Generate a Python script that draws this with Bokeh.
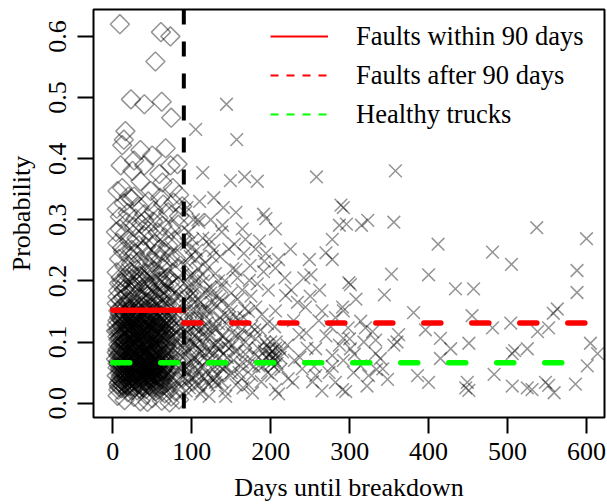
import math
from bokeh.plotting import figure
from bokeh.models import Range1d, FixedTicker, NumeralTickFormatter, Span, Legend, LegendItem
from bokeh.embed import file_html
from bokeh.resources import INLINE

# ---------------- data ----------------
cutoff_days = 90

line_labels = ["Faults within 90 days", "Faults after 90 days", "Healthy trucks"]
line_levels = [0.152, 0.131, 0.066]
line_start = [0, 90, 0]
line_end = [90, 600, 600]
line_colors = ["#ff0000", "#ff0000", "#00ff00"]
line_dashes = ["solid", "17 31", "17 31"]
legend_dashes = ["solid", "8 8", "8 8"]

x_ticks = [0, 100, 200, 300, 400, 500, 600]
y_ticks = [0.0, 0.1, 0.2, 0.3, 0.4, 0.5, 0.6]

# trucks that broke down within 90 days (diamonds): (days, probability)
early_points = [
    (9, 0.620), (61, 0.607), (73, 0.600), (54, 0.559), (23, 0.497), (40, 0.489), (62, 0.493),
    (74, 0.467), (16, 0.445), (14, 0.431), (12, 0.422), (35, 0.414), (67, 0.417), (50, 0.405),
    (10, 0.389), (27, 0.397), (40, 0.389), (82, 0.391), (25, 0.380), (59, 0.375), (73, 0.389),
    (12, 0.352), (63, 0.361), (35, 0.363), (76, 0.352), (6, 0.347), (27, 0.338), (48, 0.347),
    (84, 0.341),
    (5, 0.318), (9, 0.305), (14, 0.327), (19, 0.311), (24, 0.334), (29, 0.302), (34, 0.321),
    (40, 0.309), (45, 0.330), (52, 0.315), (58, 0.303), (64, 0.325), (70, 0.312), (77, 0.328),
    (84, 0.306), (20, 0.338), (60, 0.336), (88, 0.322),
    (6, 0.262), (9, 0.285), (12, 0.254), (15, 0.277), (18, 0.296), (21, 0.265), (24, 0.251),
    (27, 0.288), (30, 0.270), (33, 0.258), (36, 0.293), (39, 0.274), (42, 0.256), (45, 0.282),
    (48, 0.268), (51, 0.297), (54, 0.260), (57, 0.279), (60, 0.252), (63, 0.290), (66, 0.271),
    (70, 0.258), (74, 0.284), (78, 0.266), (83, 0.292), (87, 0.275), (4, 0.280), (40, 0.298),
    (5, 0.214), (8, 0.236), (10, 0.205), (13, 0.248), (15, 0.223), (18, 0.210), (20, 0.241),
    (23, 0.228), (25, 0.203), (28, 0.245), (30, 0.218), (33, 0.232), (35, 0.207), (38, 0.249),
    (40, 0.225), (43, 0.212), (45, 0.239), (48, 0.201), (50, 0.230), (53, 0.216), (55, 0.244),
    (58, 0.209), (60, 0.234), (63, 0.221), (65, 0.247), (68, 0.204), (70, 0.228), (73, 0.240),
    (76, 0.213), (80, 0.237), (84, 0.220), (88, 0.243), (22, 0.215), (47, 0.222), (62, 0.200),
    (5, 0.163), (7, 0.184), (9, 0.155), (11, 0.197), (13, 0.172), (15, 0.158), (17, 0.189),
    (19, 0.166), (21, 0.151), (23, 0.181), (25, 0.194), (27, 0.162), (29, 0.176), (31, 0.153),
    (33, 0.199), (35, 0.169), (37, 0.186), (39, 0.157), (41, 0.178), (43, 0.192), (45, 0.164),
    (47, 0.150), (49, 0.183), (51, 0.171), (53, 0.196), (55, 0.159), (57, 0.175), (59, 0.188),
    (61, 0.154), (63, 0.167), (65, 0.193), (67, 0.180), (69, 0.160), (71, 0.174), (73, 0.198),
    (75, 0.156), (77, 0.185), (80, 0.168), (83, 0.191), (86, 0.161), (89, 0.179), (12, 0.150),
    (28, 0.190), (44, 0.175), (60, 0.170),
    (6, 0.174), (8, 0.196), (10, 0.168), (14, 0.186), (16, 0.203), (18, 0.177), (22, 0.165),
    (24, 0.210), (26, 0.183), (30, 0.197), (32, 0.171), (34, 0.208), (36, 0.160), (40, 0.201),
    (42, 0.166), (46, 0.190), (48, 0.214), (52, 0.180), (54, 0.165), (58, 0.199), (62, 0.181),
    (66, 0.160), (70, 0.205), (74, 0.175), (78, 0.196),
    (7, 0.151), (10, 0.137), (13, 0.158), (16, 0.144), (19, 0.153), (22, 0.146), (25, 0.139),
    (28, 0.155), (31, 0.141), (34, 0.157), (37, 0.147), (40, 0.135), (43, 0.154), (46, 0.143),
    (49, 0.156), (52, 0.138), (55, 0.150), (59, 0.142), (64, 0.152), (69, 0.140),
    (4, 0.118), (6, 0.135), (7, 0.104), (9, 0.146), (11, 0.126), (12, 0.111), (14, 0.139),
    (15, 0.102), (17, 0.121), (18, 0.148), (20, 0.132), (21, 0.108), (23, 0.143), (24, 0.117),
    (26, 0.129), (27, 0.101), (29, 0.137), (30, 0.114), (32, 0.149), (33, 0.124), (35, 0.106),
    (36, 0.141), (38, 0.119), (39, 0.133), (41, 0.103), (42, 0.128), (44, 0.145), (45, 0.112),
    (47, 0.136), (48, 0.122), (50, 0.107), (51, 0.147), (53, 0.130), (54, 0.115), (56, 0.140),
    (58, 0.105), (59, 0.125), (61, 0.144), (62, 0.113), (64, 0.134), (66, 0.120), (67, 0.102),
    (69, 0.146), (71, 0.127), (73, 0.110), (75, 0.138), (77, 0.118), (79, 0.131), (82, 0.104),
    (84, 0.142), (86, 0.123), (88, 0.109), (16, 0.131), (34, 0.127), (57, 0.131),
    (5, 0.128), (6, 0.109), (8, 0.141), (10, 0.117), (12, 0.135), (13, 0.103), (15, 0.145),
    (17, 0.113), (19, 0.127), (20, 0.104), (22, 0.138), (24, 0.150), (25, 0.121), (27, 0.134),
    (28, 0.111), (30, 0.146), (31, 0.128), (33, 0.105), (35, 0.139), (37, 0.124), (38, 0.100),
    (40, 0.147), (42, 0.114), (43, 0.136), (46, 0.126), (47, 0.104), (49, 0.142), (52, 0.119),
    (54, 0.133), (57, 0.110), (60, 0.122), (63, 0.140), (66, 0.108), (70, 0.132), (74, 0.124),
    (8, 0.120), (11, 0.140), (14, 0.128), (17, 0.137), (20, 0.122), (23, 0.131), (26, 0.142),
    (29, 0.124), (32, 0.136), (35, 0.120), (41, 0.138), (44, 0.131), (48, 0.139), (53, 0.124),
    (56, 0.129), (61, 0.133), (65, 0.127), (68, 0.138), (72, 0.120), (78, 0.126),
    (6, 0.119), (9, 0.106), (12, 0.124), (15, 0.112), (18, 0.105), (21, 0.121), (24, 0.109),
    (27, 0.118), (30, 0.103), (33, 0.115), (36, 0.126), (39, 0.108), (42, 0.120), (45, 0.102),
    (48, 0.117), (51, 0.110), (54, 0.125), (58, 0.114), (62, 0.121), (67, 0.115),
    (7, 0.096), (10, 0.108), (12, 0.089), (14, 0.118), (16, 0.100), (18, 0.093), (20, 0.115),
    (22, 0.101), (24, 0.086), (26, 0.110), (28, 0.097), (30, 0.122), (32, 0.090), (34, 0.111),
    (36, 0.098), (38, 0.130), (40, 0.112), (42, 0.094), (44, 0.120), (46, 0.101), (48, 0.113),
    (50, 0.091), (52, 0.108), (55, 0.117), (58, 0.099), (62, 0.105), (65, 0.112), (68, 0.096),
    (72, 0.103), (76, 0.109),
    (4, 0.072), (6, 0.088), (8, 0.064), (10, 0.095), (11, 0.078), (13, 0.061), (14, 0.086),
    (16, 0.070), (17, 0.098), (19, 0.082), (20, 0.066), (22, 0.091), (23, 0.075), (25, 0.062),
    (26, 0.087), (28, 0.069), (29, 0.096), (31, 0.080), (32, 0.063), (34, 0.090), (35, 0.073),
    (37, 0.085), (38, 0.067), (40, 0.099), (41, 0.077), (43, 0.060), (44, 0.089), (46, 0.071),
    (47, 0.094), (49, 0.083), (50, 0.065), (52, 0.092), (53, 0.076), (55, 0.068), (56, 0.087),
    (58, 0.079), (60, 0.097), (61, 0.062), (63, 0.084), (65, 0.071), (67, 0.093), (68, 0.066),
    (70, 0.081), (72, 0.074), (74, 0.096), (76, 0.063), (78, 0.088), (80, 0.070), (83, 0.082),
    (86, 0.093), (89, 0.067), (9, 0.081), (27, 0.078), (45, 0.080), (57, 0.061),
    (5, 0.083), (7, 0.069), (9, 0.092), (11, 0.063), (12, 0.075), (14, 0.097), (16, 0.082),
    (18, 0.061), (19, 0.073), (21, 0.085), (23, 0.094), (24, 0.068), (26, 0.079), (28, 0.091),
    (30, 0.064), (31, 0.088), (33, 0.072), (35, 0.095), (36, 0.080), (38, 0.062), (40, 0.087),
    (42, 0.070), (43, 0.098), (45, 0.066), (47, 0.078), (48, 0.090), (50, 0.074), (52, 0.061),
    (54, 0.085), (56, 0.095), (59, 0.072), (62, 0.088), (66, 0.079), (69, 0.065), (73, 0.086),
    (7, 0.078), (10, 0.086), (13, 0.079), (16, 0.091), (19, 0.088), (22, 0.077), (25, 0.097),
    (28, 0.083), (31, 0.094), (34, 0.078), (37, 0.092), (40, 0.075), (43, 0.084), (46, 0.095),
    (49, 0.076), (52, 0.085), (55, 0.079), (58, 0.091), (62, 0.077), (66, 0.090),
    (6, 0.065), (9, 0.057), (12, 0.069), (15, 0.051), (18, 0.066), (21, 0.055), (24, 0.070),
    (27, 0.058), (30, 0.067), (33, 0.052), (36, 0.064), (39, 0.055), (42, 0.068), (45, 0.056),
    (48, 0.063), (51, 0.054), (54, 0.070), (57, 0.058), (60, 0.067), (63, 0.053),
    (6, 0.058), (9, 0.049), (11, 0.037), (13, 0.066), (15, 0.058), (17, 0.041), (19, 0.064),
    (21, 0.049), (23, 0.060), (25, 0.045), (27, 0.067), (29, 0.054), (31, 0.040), (33, 0.062),
    (35, 0.047), (37, 0.058), (39, 0.069), (41, 0.044), (43, 0.055), (45, 0.042), (47, 0.066),
    (49, 0.051), (51, 0.060), (53, 0.047), (55, 0.063), (57, 0.052), (59, 0.065), (61, 0.041),
    (64, 0.056), (67, 0.062),
    (5, 0.045), (8, 0.034), (10, 0.055), (13, 0.041), (15, 0.032), (17, 0.050), (19, 0.038),
    (21, 0.058), (23, 0.044), (25, 0.035), (27, 0.052), (29, 0.039), (31, 0.047), (33, 0.031),
    (35, 0.056), (37, 0.042), (39, 0.036), (41, 0.053), (43, 0.045), (45, 0.033), (47, 0.059),
    (49, 0.040), (51, 0.049), (53, 0.035), (55, 0.054), (57, 0.043), (59, 0.031), (61, 0.051),
    (63, 0.038), (65, 0.057), (67, 0.046), (69, 0.034), (72, 0.052), (75, 0.040), (78, 0.048),
    (81, 0.036), (84, 0.055), (87, 0.043), (12, 0.048), (22, 0.033), (32, 0.057), (42, 0.050),
    (52, 0.042), (62, 0.044), (18, 0.054),
    (7, 0.031), (10, 0.044), (13, 0.036), (16, 0.046), (19, 0.030), (22, 0.040), (25, 0.027),
    (28, 0.045), (31, 0.033), (34, 0.042), (37, 0.028), (40, 0.035), (43, 0.046), (46, 0.030),
    (49, 0.043), (52, 0.026), (55, 0.038), (58, 0.047), (61, 0.030), (65, 0.040),
    (7, 0.022), (9, 0.040), (12, 0.030), (14, 0.052), (16, 0.025), (18, 0.043), (20, 0.028),
    (22, 0.047), (24, 0.021), (26, 0.041), (28, 0.026), (30, 0.053), (32, 0.036), (34, 0.024),
    (36, 0.049), (38, 0.032), (40, 0.044), (42, 0.023), (44, 0.038), (46, 0.051), (48, 0.027),
    (50, 0.039), (52, 0.057), (54, 0.030), (56, 0.046), (58, 0.022), (60, 0.037), (64, 0.029),
    (68, 0.053), (73, 0.032),
    (6, 0.012), (11, 0.024), (15, 0.005), (19, 0.018), (23, 0.028), (27, 0.010), (31, 0.021),
    (35, 0.003), (38, 0.026), (42, 0.014), (46, 0.029), (50, 0.008), (54, 0.019), (58, 0.027),
    (62, 0.004), (66, 0.016), (70, 0.025), (74, 0.011), (79, 0.020), (84, 0.006), (88, 0.022),
    (13, 0.029), (44, 0.002), (72, 0.001), (8, 0.027),
]

# trucks that broke down after 90 days (crosses): (days, probability)
late_points = [
    (144, 0.489), (105, 0.448), (157, 0.431), (114, 0.377), (149, 0.364), (167, 0.370),
    (183, 0.363), (258, 0.370), (358, 0.380), (128, 0.336), (289, 0.324), (292, 0.320),
    (156, 0.312), (191, 0.309), (296, 0.293), (315, 0.291), (323, 0.299), (356, 0.296),
    (412, 0.260), (537, 0.287), (600, 0.269), (481, 0.247), (505, 0.227), (588, 0.217),
    (353, 0.211), (400, 0.210), (299, 0.197), (301, 0.194), (434, 0.187), (457, 0.187),
    (344, 0.177), (588, 0.181), (308, 0.170), (563, 0.154), (558, 0.147), (381, 0.148),
    (455, 0.143), (314, 0.134), (329, 0.117), (362, 0.112), (356, 0.095), (360, 0.100),
    (396, 0.120), (415, 0.106), (451, 0.098), (481, 0.123), (504, 0.131), (538, 0.117),
    (552, 0.123), (605, 0.098), (614, 0.081), (525, 0.089), (506, 0.081), (509, 0.086),
    (314, 0.061), (305, 0.050), (324, 0.045), (348, 0.039), (339, 0.073), (386, 0.045),
    (400, 0.034), (415, 0.073), (428, 0.089), (449, 0.034), (447, 0.025), (451, 0.021),
    (483, 0.047), (506, 0.028), (525, 0.025), (548, 0.034), (552, 0.029), (559, 0.017),
    (586, 0.031), (601, 0.061), (295, 0.019), (531, 0.022),
    (194, 0.302), (206, 0.285), (225, 0.252), (181, 0.252), (192, 0.232), (206, 0.221),
    (251, 0.210), (278, 0.235), (287, 0.291), (219, 0.176), (244, 0.157), (265, 0.151),
    (206, 0.151), (287, 0.095), (278, 0.078), (257, 0.089), (236, 0.112), (206, 0.078),
    (198, 0.089), (215, 0.084), (185, 0.061), (164, 0.067), (240, 0.056), (257, 0.045),
    (282, 0.034), (228, 0.034), (206, 0.022), (177, 0.017), (143, 0.011), (122, 0.011),
    (291, 0.022), (130, 0.034), (105, 0.045), (139, 0.056), (122, 0.084), (152, 0.095),
    (173, 0.112), (156, 0.140), (181, 0.157), (139, 0.168), (164, 0.185), (118, 0.185),
    (130, 0.212), (156, 0.218), (173, 0.201), (105, 0.235), (126, 0.240), (147, 0.252),
    (168, 0.268), (122, 0.268), (139, 0.291), (109, 0.296), (164, 0.285), (101, 0.268),
    (97, 0.207), (114, 0.157), (105, 0.129), (130, 0.123), (97, 0.101), (114, 0.112),
    (101, 0.073), (135, 0.089), (274, 0.050), (282, 0.140), (291, 0.157), (278, 0.268),
    (249, 0.235), (270, 0.246),
    (292, 0.151), (298, 0.123), (320, 0.123), (333, 0.103), (292, 0.106), (301, 0.089),
    (333, 0.081), (342, 0.056),
    (93, 0.020), (95, 0.050), (97, 0.090), (99, 0.130), (101, 0.170), (103, 0.210),
    (106, 0.250), (108, 0.300), (110, 0.330), (94, 0.320), (96, 0.280), (98, 0.240),
    (100, 0.190), (102, 0.150), (104, 0.110), (107, 0.070), (109, 0.030), (112, 0.060),
    (114, 0.100), (116, 0.140), (118, 0.180), (120, 0.220), (122, 0.260), (124, 0.300),
    (126, 0.040), (128, 0.080), (130, 0.120), (132, 0.160), (134, 0.200), (136, 0.240),
    (138, 0.280), (140, 0.320), (142, 0.020), (144, 0.060), (146, 0.100), (148, 0.140),
    (150, 0.180), (152, 0.220), (154, 0.260), (111, 0.015), (119, 0.035), (127, 0.055),
    (135, 0.075), (143, 0.095), (151, 0.115), (159, 0.135), (167, 0.155), (175, 0.175),
    (183, 0.195), (191, 0.215), (92, 0.120), (92, 0.175), (105, 0.095), (117, 0.125),
    (125, 0.165), (133, 0.045), (141, 0.145), (149, 0.045), (157, 0.085), (165, 0.025),
    (173, 0.065), (181, 0.105), (189, 0.145), (197, 0.185), (205, 0.125), (213, 0.055),
    (221, 0.095), (229, 0.135), (237, 0.075), (245, 0.115), (253, 0.035), (261, 0.135),
    (158, 0.205), (166, 0.245), (174, 0.225), (186, 0.265), (194, 0.245), (210, 0.235),
    (218, 0.205), (226, 0.185), (234, 0.165), (242, 0.205), (250, 0.175), (262, 0.185),
    (270, 0.110), (276, 0.125), (292, 0.070), (300, 0.105), (306, 0.080), (318, 0.100),
    (322, 0.028), (334, 0.055), (265, 0.020), (278, 0.060), (210, 0.015), (196, 0.050),
    (188, 0.035), (180, 0.080), (168, 0.100), (162, 0.060), (156, 0.030), (200, 0.100),
    (208, 0.065), (222, 0.040), (230, 0.070), (246, 0.090), (255, 0.060), (194, 0.075),
    (202, 0.085), (212, 0.075), (204, 0.060), (199, 0.070),
    (91, 0.060), (93, 0.150), (94, 0.230), (95, 0.110), (96, 0.035), (98, 0.175),
    (99, 0.065), (100, 0.255), (102, 0.125), (103, 0.040), (104, 0.190), (106, 0.150),
    (107, 0.105), (108, 0.220), (110, 0.080), (111, 0.165), (113, 0.045), (115, 0.200),
    (116, 0.075), (118, 0.110), (120, 0.150), (121, 0.030), (123, 0.190), (125, 0.095),
    (127, 0.130), (129, 0.060), (131, 0.175), (133, 0.100), (136, 0.140), (138, 0.035),
    (140, 0.110), (142, 0.200), (145, 0.075), (147, 0.160), (150, 0.050), (153, 0.130),
    (155, 0.085), (158, 0.170), (161, 0.110), (163, 0.040), (166, 0.140), (170, 0.090),
    (172, 0.030), (176, 0.125), (179, 0.060), (184, 0.090), (187, 0.120), (192, 0.100),
    (196, 0.130), (201, 0.045), (203, 0.075), (207, 0.100), (211, 0.090), (198, 0.080),
    (205, 0.070),
    (91, 0.095), (92, 0.040), (93, 0.260), (94, 0.085), (95, 0.190), (96, 0.140),
    (97, 0.025), (98, 0.120), (99, 0.210), (100, 0.100), (101, 0.055), (102, 0.300),
    (103, 0.165), (104, 0.075), (105, 0.200), (106, 0.030), (107, 0.130), (108, 0.170),
    (109, 0.090), (110, 0.240), (111, 0.120), (112, 0.150), (113, 0.020), (114, 0.270),
    (115, 0.060), (116, 0.095), (117, 0.230), (118, 0.050), (119, 0.155), (120, 0.085),
    (122, 0.120), (124, 0.180), (126, 0.070), (128, 0.250), (130, 0.095), (132, 0.030),
    (134, 0.130), (136, 0.060), (138, 0.190), (140, 0.080),
    (92, 0.080), (94, 0.130), (96, 0.065), (98, 0.150), (100, 0.040), (102, 0.180),
    (104, 0.095), (106, 0.120), (108, 0.055), (110, 0.140), (112, 0.085), (114, 0.210),
    (116, 0.040), (118, 0.130), (120, 0.070), (123, 0.110), (126, 0.150), (129, 0.040),
    (132, 0.090), (135, 0.170), (138, 0.110), (141, 0.060), (144, 0.130), (147, 0.090),
    (150, 0.150), (153, 0.070), (157, 0.110), (160, 0.050), (164, 0.120), (168, 0.080),
    (172, 0.150), (176, 0.045), (180, 0.120), (185, 0.075), (190, 0.060), (195, 0.095),
    (200, 0.080), (206, 0.090), (192, 0.085), (201, 0.065),
]

# ---------------- figure ----------------
early_x = [pt[0] for pt in early_points]
early_y = [pt[1] for pt in early_points]
late_x = [pt[0] for pt in late_points]
late_y = [pt[1] for pt in late_points]

FONT = "Liberation Serif"

p = figure(width=607, height=504, output_backend="svg", toolbar_location=None,
           x_range=Range1d(-24.4, 622.8), y_range=Range1d(-0.0235, 0.644),
           min_border_left=93, min_border_right=3, min_border_top=9, min_border_bottom=0,
           background_fill_color="white", border_fill_color="white")

p.xgrid.visible = False
p.ygrid.visible = False
p.outline_line_color = "black"
p.outline_line_width = 2
p.outline_line_alpha = 1

for ax in (p.xaxis[0], p.yaxis[0]):
    ax.axis_line_color = None
    ax.major_tick_line_color = "black"
    ax.major_tick_line_width = 2
    ax.major_tick_in = 0
    ax.major_tick_out = 16
    ax.minor_tick_line_color = None
    ax.major_label_text_font = FONT
    ax.major_label_text_font_size = "26px"
    ax.major_label_text_color = "black"
    ax.major_label_text_line_height = 1.0
    ax.axis_label_text_font = FONT
    ax.axis_label_text_font_size = "26px"
    ax.axis_label_text_font_style = "normal"
    ax.axis_label_text_color = "black"
    ax.axis_label_text_line_height = 1.0

p.xaxis.ticker = FixedTicker(ticks=x_ticks)
p.yaxis.ticker = FixedTicker(ticks=y_ticks)
p.yaxis.formatter = NumeralTickFormatter(format="0.0")
p.yaxis.major_label_orientation = "vertical"
p.xaxis.axis_label = "Days until breakdown"
p.yaxis.axis_label = "Probability"
p.xaxis.major_label_standoff = 9
p.yaxis.major_label_standoff = 11
p.xaxis.axis_label_standoff = 10
p.yaxis.axis_label_standoff = 11

p.scatter(early_x, early_y, marker="square", angle=math.pi / 4, size=13.5,
          fill_color=None, line_color="black", line_alpha=0.42, line_width=1.5)
p.scatter(late_x, late_y, marker="x", size=18,
          fill_color=None, line_color="black", line_alpha=0.42, line_width=1.5)

for lvl, x0, x1, col, dash in zip(line_levels, line_start, line_end, line_colors, line_dashes):
    p.line([x0, x1], [lvl, lvl], line_color=col, line_width=5.5, line_dash=dash,
           line_cap="round")

p.add_layout(Span(location=cutoff_days, dimension="height", line_color="black",
                  line_width=4, line_dash="15 17"))

items = []
for lab, lvl, x0, x1, col, dash in zip(line_labels, line_levels, line_start, line_end,
                                        line_colors, legend_dashes):
    r = p.line([x0, x1], [lvl, lvl], line_color=col, line_width=2, line_dash=dash,
               visible=False)
    items.append(LegendItem(label=lab, renderers=[r]))

legend = Legend(items=items, location=(177, 287), orientation="vertical",
                padding=0, margin=0, spacing=7, glyph_width=58, glyph_height=32,
                label_height=32, label_standoff=28, click_policy="none",
                label_text_font=FONT, label_text_font_size="26.5px",
                label_text_color="black",
                border_line_alpha=0, background_fill_alpha=0)
p.add_layout(legend)

open("out.html", "w").write(file_html(p, INLINE))
